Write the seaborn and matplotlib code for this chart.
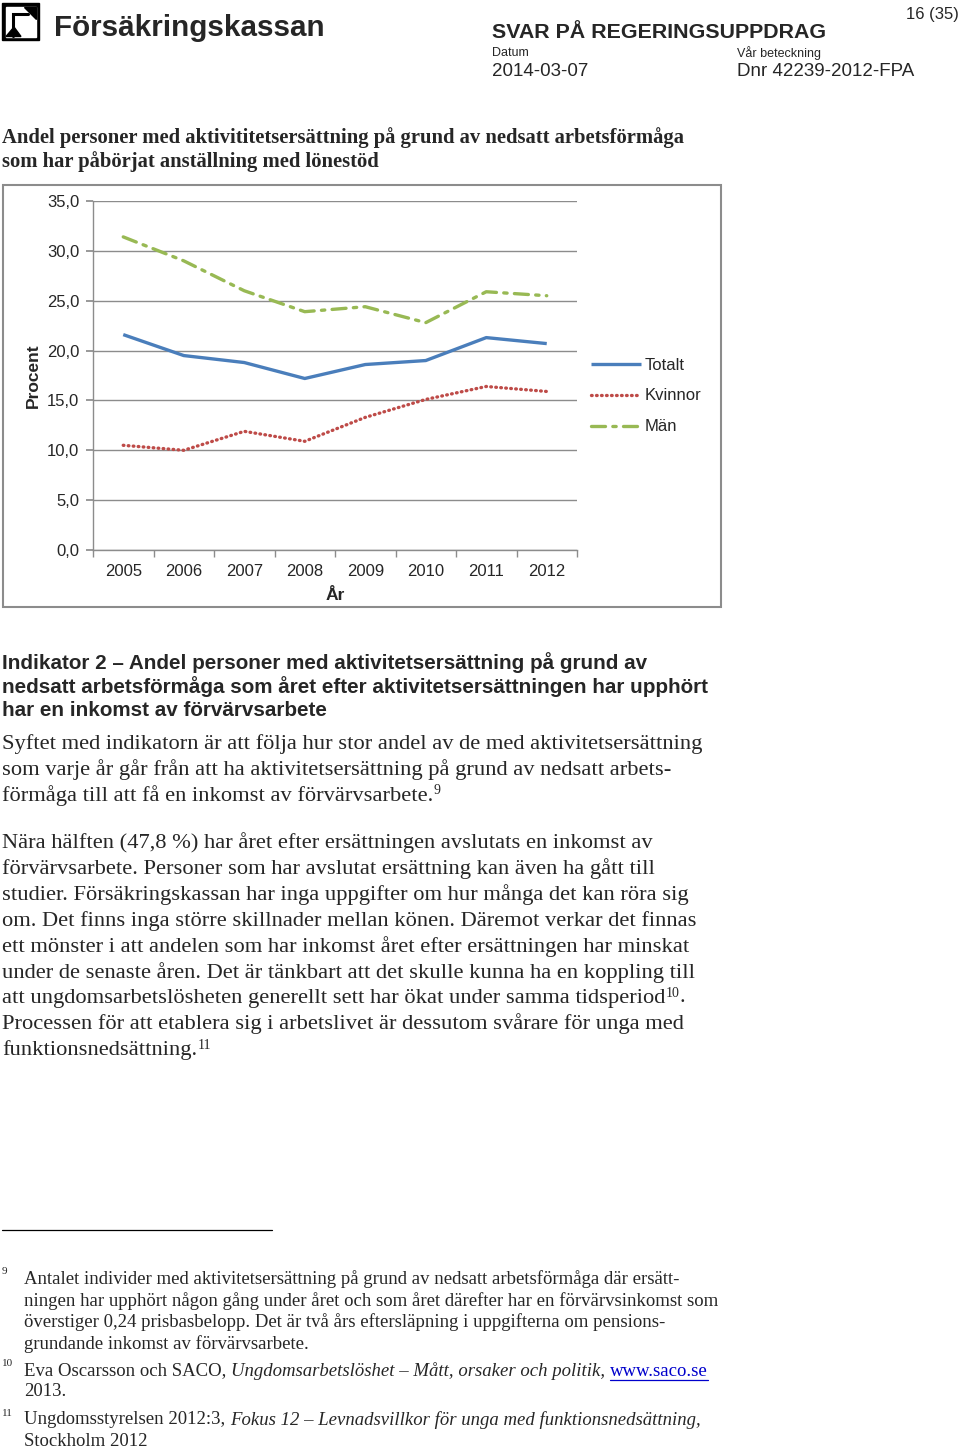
import numpy as np
import pandas as pd
import matplotlib
matplotlib.use("Agg")
import matplotlib.pyplot as plt
import seaborn as sns
from matplotlib.patches import Rectangle, Polygon

# --- chart data ---
years = ["2005", "2006", "2007", "2008", "2009", "2010", "2011", "2012"]
totalt = [21.6, 19.5, 18.8, 17.2, 18.6, 19.0, 21.3, 20.7]
kvinnor = [10.5, 10.0, 11.9, 10.9, 13.3, 15.1, 16.4, 15.9]
man = [31.4, 29.0, 26.0, 23.9, 24.4, 22.8, 25.9, 25.5]
series_names = ["Totalt", "Kvinnor", "Män"]
y_ticks = [0, 5, 10, 15, 20, 25, 30, 35]

sns.set_theme(style="white")
plt.rcParams['font.family'] = ['Liberation Sans', 'DejaVu Sans']

SERIF = ['Liberation Serif', 'DejaVu Serif']
SANS = ['Liberation Sans', 'DejaVu Sans']
NARROW = ['Liberation Sans Narrow', 'Liberation Sans', 'DejaVu Sans']

W, H = 960, 1451
fig = plt.figure(figsize=(W / 100, H / 100), dpi=100)
fig.patch.set_facecolor("white")

# page axes in pixel coordinates
page = fig.add_axes([0, 0, 1, 1], zorder=0)
page.set_xlim(0, W)
page.set_ylim(H, 0)
page.axis("off")

# --- header / logo ---
page.add_patch(Rectangle((2, 3), 37, 37, color="black"))
page.add_patch(Rectangle((5.5, 6.5), 30, 30, color="white"))
page.plot([13, 13, 28], [36, 14, 14], color="black", lw=2.2, solid_joinstyle="miter")
page.add_patch(Polygon([[24, 6.5], [35.5, 6.5], [35.5, 19]], color="black"))
page.add_patch(Polygon([[6, 36.5], [21, 36.5], [14, 27]], color="black"))
page.text(54, 28, "Försäkringskassan", fontsize=21.3, fontweight="bold",
          family=SANS, va="center", ha="left")
page.text(959, 14, "16 (35)", fontsize=12, family=SANS, va="center", ha="right")
page.text(492, 33, "SVAR PÅ REGERINGSUPPDRAG", fontsize=15.4, fontweight="bold",
          family=SANS, va="center", ha="left")
page.text(492, 53, "Datum", fontsize=9, family=SANS, va="center")
page.text(737, 53, "Vår beteckning", fontsize=9, family=SANS, va="center")
page.text(492, 72, "2014-03-07", fontsize=13.5, family=SANS, va="center")
page.text(737, 72, "Dnr 42239-2012-FPA", fontsize=13.5, family=SANS, va="center")

# --- chart title ---
TITLE = 14.85
page.text(2, 138, "Andel personer med aktivititetsersättning på grund av nedsatt arbetsförmåga",
          fontsize=TITLE, fontweight="bold", family=SERIF, va="center")
page.text(2, 162, "som har påbörjat anställning med lönestöd",
          fontsize=TITLE, fontweight="bold", family=SERIF, va="center")

# chart frame
page.add_patch(Rectangle((3, 185), 718, 422, fill=False, edgecolor="#8c8c8c", lw=1.5))

# --- chart ---
x0, x1, ytop, ybot = 93, 577, 201, 550
ax = fig.add_axes([x0 / W, 1 - ybot / H, (x1 - x0) / W, (ybot - ytop) / H], zorder=1)
ax.set_facecolor("none")

df = pd.DataFrame({"year": years * 3,
                   "value": totalt + kvinnor + man,
                   "serie": [series_names[0]] * 8 + [series_names[1]] * 8 + [series_names[2]] * 8})
palette = {"Totalt": "#4a7ebb", "Kvinnor": "#be4b48", "Män": "#98b954"}
dashes = {"Totalt": "", "Kvinnor": (0.2, 1.3), "Män": (4.2, 2.2, 1.0, 2.2)}
sns.lineplot(data=df, x="year", y="value", hue="serie", style="serie",
             palette=palette, dashes=dashes, linewidth=2.4, ax=ax, sort=False)

ax.set_xlim(-0.5, 7.5)
ax.set_ylim(0, 35)
ax.set_yticks(y_ticks)
ax.set_yticklabels([f"{v:.1f}".replace(".", ",") for v in y_ticks], family=NARROW, fontsize=12)
ax.set_xticks(range(len(years)))
ax.set_xticklabels(years, family=NARROW, fontsize=12)
ax.set_xticks(np.arange(-0.5, 8, 1), minor=True)
ax.tick_params(axis="x", which="major", length=0, pad=10)
ax.tick_params(axis="x", which="minor", length=5, color="#8c8c8c", direction="out", bottom=True)
ax.tick_params(axis="y", length=5, color="#8c8c8c", direction="out", left=True, pad=5)
ax.grid(axis="y", color="#8c8c8c", lw=1)
ax.grid(axis="x", visible=False)
for s in ["top", "right"]:
    ax.spines[s].set_visible(False)
for s in ["left", "bottom"]:
    ax.spines[s].set_color("#8c8c8c")
    ax.spines[s].set_linewidth(1)
ax.set_xlabel("")
ax.set_ylabel("")
for line in ax.get_lines():
    line.set_solid_capstyle("butt")
    line.set_dash_capstyle("round")

leg = ax.legend(loc="center left", bbox_to_anchor=((591 - x0) / (x1 - x0), (ybot - 396) / (ybot - ytop)),
                frameon=False, handlelength=3.0, handletextpad=0.2, labelspacing=0.95,
                prop={"family": NARROW, "size": 12}, borderaxespad=0, borderpad=0)
for h in leg.get_lines():
    h.set_dash_capstyle("round")

page.text(33, 376, "Procent", fontsize=12.5, fontweight="bold", family=SANS,
          rotation=90, va="center", ha="center")
page.text(335, 595, "År", fontsize=12.5, fontweight="bold", family=NARROW,
          va="center", ha="center")

# --- body text ---
BODY = 16.2
SUP = 10
heading = ["Indikator 2 – Andel personer med aktivitetsersättning på grund av",
           "nedsatt arbetsförmåga som året efter aktivitetsersättningen har upphört",
           "har en inkomst av förvärvsarbete"]
for y, t in zip([663, 687, 711], heading):
    page.text(2, y, t, fontsize=14.9, fontweight="bold", family=SANS, va="center")

para1 = ["Syftet med indikatorn är att följa hur stor andel av de med aktivitetsersättning",
         "som varje år går från att ha aktivitetsersättning på grund av nedsatt arbets-",
         "förmåga till att få en inkomst av förvärvsarbete."]
last = None
for y, t in zip([744, 770, 796], para1):
    last = page.text(2, y, t, fontsize=BODY, family=SERIF, va="center")
page.annotate("9", xy=(1, 1), xycoords=last, xytext=(0.5, 1), textcoords="offset points",
              fontsize=SUP, family=SERIF, va="top", ha="left")

para2 = ["Nära hälften (47,8 %) har året efter ersättningen avslutats en inkomst av",
         "förvärvsarbete. Personer som har avslutat ersättning kan även ha gått till",
         "studier. Försäkringskassan har inga uppgifter om hur många det kan röra sig",
         "om. Det finns inga större skillnader mellan könen. Däremot verkar det finnas",
         "ett mönster i att andelen som har inkomst året efter ersättningen har minskat",
         "under de senaste åren. Det är tänkbart att det skulle kunna ha en koppling till",
         "att ungdomsarbetslösheten generellt sett har ökat under samma tidsperiod",
         "Processen för att etablera sig i arbetslivet är dessutom svårare för unga med",
         "funktionsnedsättning."]
ys2 = [843, 869, 895, 921, 947, 973, 998, 1024, 1050]
texts2 = [page.text(2, y, t, fontsize=BODY, family=SERIF, va="center") for y, t in zip(ys2, para2)]
sup10 = page.annotate("10", xy=(1, 1), xycoords=texts2[6], xytext=(0.5, 1), textcoords="offset points",
                      fontsize=SUP, family=SERIF, va="top", ha="left")
page.annotate(".", xy=(1, 0.5), xycoords=(sup10, texts2[6]),
              fontsize=BODY, family=SERIF, va="center", ha="left")
page.annotate("11", xy=(1, 1), xycoords=texts2[8], xytext=(0.5, 1), textcoords="offset points",
              fontsize=SUP, family=SERIF, va="top", ha="left")

# --- footnotes ---
page.plot([2, 272], [1230, 1230], color="black", lw=0.9)
FN = 13.5
fn9 = ["Antalet individer med aktivitetsersättning på grund av nedsatt arbetsförmåga där ersätt-",
       "ningen har upphört någon gång under året och som året därefter har en förvärvsinkomst som",
       "överstiger 0,24 prisbasbelopp. Det är två års eftersläpning i uppgifterna om pensions-",
       "grundande inkomst av förvärvsarbete."]
for y, t in zip([1279, 1301, 1322, 1344], fn9):
    page.text(24, y, t, fontsize=FN, family=SERIF, va="center")
page.text(2, 1272, "9", fontsize=8, family=SERIF, va="center")
page.text(2, 1364, "10", fontsize=8, family=SERIF, va="center")
page.text(2, 1413, "11", fontsize=8, family=SERIF, va="center")

a = page.text(24, 1371, "Eva Oscarsson och SACO, ", fontsize=FN, family=SERIF, va="center")
b = page.annotate("Ungdomsarbetslöshet – Mått, orsaker och politik, ", xy=(1, 0.5), xycoords=a,
                  fontsize=FN, family=SERIF, style="italic", va="center", ha="left")
link = page.annotate("www.saco.se", xy=(1, 0.5), xycoords=b, fontsize=FN, family=SERIF,
                     color="#0000cc", va="center", ha="left")
page.text(24, 1392, "2013.", fontsize=FN, family=SERIF, va="center")

c = page.text(24, 1420, "Ungdomsstyrelsen 2012:3, ", fontsize=FN, family=SERIF, va="center")
page.annotate("Fokus 12 – Levnadsvillkor för unga med funktionsnedsättning,", xy=(1, 0.5), xycoords=c,
              fontsize=FN, family=SERIF, style="italic", va="center", ha="left")
page.text(24, 1441, "Stockholm 2012", fontsize=FN, family=SERIF, va="center")

# underline the link where it ended up
fig.canvas.draw()
bb = link.get_window_extent().transformed(page.transData.inverted())
page.plot([bb.x0, bb.x1], [1380, 1380], color="#0000cc", lw=0.9)

fig.savefig("out.png", dpi=100)
